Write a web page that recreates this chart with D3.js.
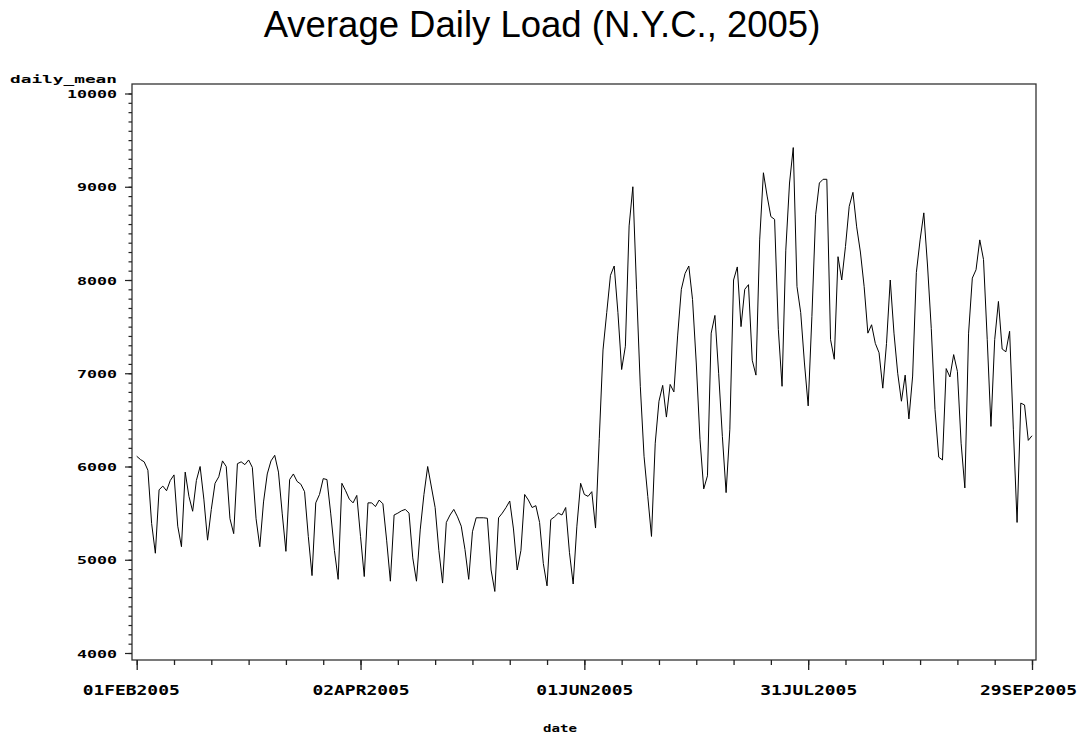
<!DOCTYPE html>
<html>
<head>
<meta charset="utf-8">
<script src="https://cdn.jsdelivr.net/npm/d3@7"></script>
<style>
  html, body { margin: 0; padding: 0; background: #fff; }
  svg { display: block; }
</style>
</head>
<body>
<svg id="chart" width="1083" height="736"></svg>
<script>
// ---- data -------------------------------------------------------------
const chartTitle = "Average Daily Load (N.Y.C., 2005)";
const yAxisLabel = "daily_mean";
const xAxisLabel = "date";
const firstDay = "2005-02-01";
const lastDay = "2005-09-29";

// daily mean load, one value per day starting 01FEB2005
const dailyMean = [
  6110, 6075, 6050, 5960, 5390, 5070, 5750, 5790, 5740, 5850,
  5910, 5360, 5140, 5940, 5680, 5520, 5850, 6000, 5650, 5210,
  5540, 5820, 5890, 6060, 6000, 5440, 5280, 6030, 6050, 6020,
  6070, 5990, 5440, 5140, 5620, 5920, 6060, 6120, 5940, 5500,
  5090, 5860, 5920, 5840, 5810, 5730, 5250, 4830, 5610, 5700,
  5870, 5860, 5500, 5100, 4790, 5820, 5740, 5650, 5610, 5690,
  5250, 4820, 5610, 5610, 5570, 5640, 5600, 5210, 4770, 5480,
  5500, 5525, 5540, 5500, 5020, 4770, 5320, 5700, 6000, 5780,
  5560, 5100, 4750, 5400, 5480, 5540, 5460, 5360, 5110, 4790,
  5300, 5450, 5450, 5450, 5445, 4890, 4660, 5450, 5500, 5560,
  5630, 5330, 4890, 5100, 5700, 5640, 5560, 5580, 5400, 4960,
  4720, 5430, 5460, 5500, 5480, 5560, 5080, 4740, 5360, 5820,
  5700, 5680, 5730, 5340, 6300, 7250, 7650, 8050, 8150, 7650,
  7040, 7290, 8580, 9000, 7900, 6860, 6110, 5680, 5250, 6250,
  6700, 6870, 6530, 6880, 6800, 7400, 7900, 8070, 8150, 7790,
  7110, 6290, 5760, 5900, 7430, 7620, 7000, 6320, 5720, 6400,
  8000, 8140, 7500, 7900, 7950, 7140, 6980, 8430, 9150, 8900,
  8680, 8650, 7470, 6860, 8320, 9040, 9420, 7930, 7650, 7110,
  6650, 7610, 8700, 9040, 9080, 9080, 7360, 7150, 8250, 8000,
  8360, 8790, 8940, 8570, 8300, 7930, 7430, 7520, 7320, 7220,
  6840, 7320, 8000, 7430, 7000, 6700, 6980, 6510, 6970, 8080,
  8430, 8720, 8150, 7480, 6610, 6100, 6070, 7050, 6960, 7200,
  7020, 6250, 5770, 7430, 8020, 8110, 8430, 8220, 7360, 6430,
  7360, 7770, 7260, 7230, 7450, 6400, 5400, 6680, 6660, 6280,
  6330
];

// labelled date ticks, and the spacing of the small ones (days)
const xMajorTicks = ["2005-02-01", "2005-04-02", "2005-06-01", "2005-07-31", "2005-09-29"];
const xMinorStepDays = 10;
// value ticks
const yMajorTicks = [4000, 5000, 6000, 7000, 8000, 9000, 10000];
const yMinorStep = 100;
const yDomain = [4000, 10000];

// ---- layout -----------------------------------------------------------
const frame = { left: 132, right: 1036, top: 84, bottom: 660 };
const plot = { x0: 136.7, x1: 1032, y0: 653, y1: 93.5 };
const axisFont = "'DejaVu Sans Mono', monospace";

const parse = d3.utcParse("%Y-%m-%d");
const start = parse(firstDay);
const end = parse(lastDay);
const series = dailyMean.map((v, i) => ({ date: d3.utcDay.offset(start, i), value: v }));

const x = d3.scaleUtc().domain([start, end]).range([plot.x0, plot.x1]);
const y = d3.scaleLinear().domain(yDomain).range([plot.y0, plot.y1]);

const svg = d3.select("#chart");

// title
svg.append("text")
  .attr("x", 542)
  .attr("y", 37)
  .attr("text-anchor", "middle")
  .attr("font-family", "'Liberation Sans', Arial, sans-serif")
  .attr("font-size", 36.5)
  .attr("fill", "#000")
  .text(chartTitle);

// plot frame
svg.append("rect")
  .attr("x", frame.left)
  .attr("y", frame.top)
  .attr("width", frame.right - frame.left)
  .attr("height", frame.bottom - frame.top)
  .attr("fill", "none")
  .attr("stroke", "#333")
  .attr("stroke-width", 1.3);

// x axis: small ticks every 10 days, long labelled ticks every 60
const minorDates = d3.utcDay.range(start, d3.utcDay.offset(end, 1))
  .filter((d, i) => i % xMinorStepDays === 0);
const fmt = d3.utcFormat("%d%b%Y");

const xMinor = svg.append("g")
  .attr("transform", `translate(0,${frame.bottom})`)
  .call(d3.axisBottom(x).tickValues(minorDates).tickSize(5).tickFormat(""));
const xMajor = svg.append("g")
  .attr("transform", `translate(0,${frame.bottom})`)
  .call(d3.axisBottom(x).tickValues(xMajorTicks.map(parse)).tickSize(10)
    .tickFormat(d => fmt(d).toUpperCase()));

[xMinor, xMajor].forEach(g => {
  g.select(".domain").remove();
  g.selectAll(".tick line").attr("stroke", "#222").attr("stroke-width", 1.3);
});
const lastLabel = xMajorTicks.length - 1;
xMajor.selectAll(".tick text")
  .attr("x", (d, i) => (i === 0 ? -6 : i === lastLabel ? -4 : 0))
  .attr("y", 35)
  .attr("dy", 0)
  .attr("fill", "#000")
  .attr("font-family", axisFont)
  .attr("font-weight", "bold")
  .attr("font-size", 13.5)
  .attr("textLength", 97)
  .attr("lengthAdjust", "spacingAndGlyphs");

// y axis: small ticks every 100, labelled ticks every 1000
const yMinorValues = d3.range(yDomain[0], yDomain[1] + 1, yMinorStep);
const yMinor = svg.append("g")
  .attr("transform", `translate(${frame.left},0)`)
  .call(d3.axisLeft(y).tickValues(yMinorValues).tickSize(3.5).tickFormat(""));
const yMajor = svg.append("g")
  .attr("transform", `translate(${frame.left},0)`)
  .call(d3.axisLeft(y).tickValues(yMajorTicks).tickSize(7).tickFormat(d3.format("d")));

[yMinor, yMajor].forEach(g => {
  g.select(".domain").remove();
  g.selectAll(".tick line").attr("stroke", "#222").attr("stroke-width", 1.2);
});
yMajor.selectAll(".tick text")
  .attr("x", -15)
  .attr("dy", 4)
  .attr("fill", "#000")
  .attr("font-family", axisFont)
  .attr("font-weight", "bold")
  .attr("font-size", 11)
  .attr("textLength", d => String(d).length * 10)
  .attr("lengthAdjust", "spacingAndGlyphs");

// axis titles
svg.append("text")
  .attr("x", 117)
  .attr("y", 83)
  .attr("text-anchor", "end")
  .attr("font-family", axisFont)
  .attr("font-weight", "bold")
  .attr("font-size", 11)
  .attr("textLength", 107)
  .attr("lengthAdjust", "spacingAndGlyphs")
  .text(yAxisLabel);

svg.append("text")
  .attr("x", 560)
  .attr("y", 732)
  .attr("text-anchor", "middle")
  .attr("font-family", axisFont)
  .attr("font-weight", "bold")
  .attr("font-size", 11)
  .attr("textLength", 34)
  .attr("lengthAdjust", "spacingAndGlyphs")
  .text(xAxisLabel);

// the load series
const line = d3.line()
  .x(d => x(d.date))
  .y(d => y(d.value));

svg.append("path")
  .datum(series)
  .attr("fill", "none")
  .attr("stroke", "#000")
  .attr("stroke-width", 1)
  .attr("stroke-linejoin", "miter")
  .attr("d", line);
</script>
</body>
</html>
